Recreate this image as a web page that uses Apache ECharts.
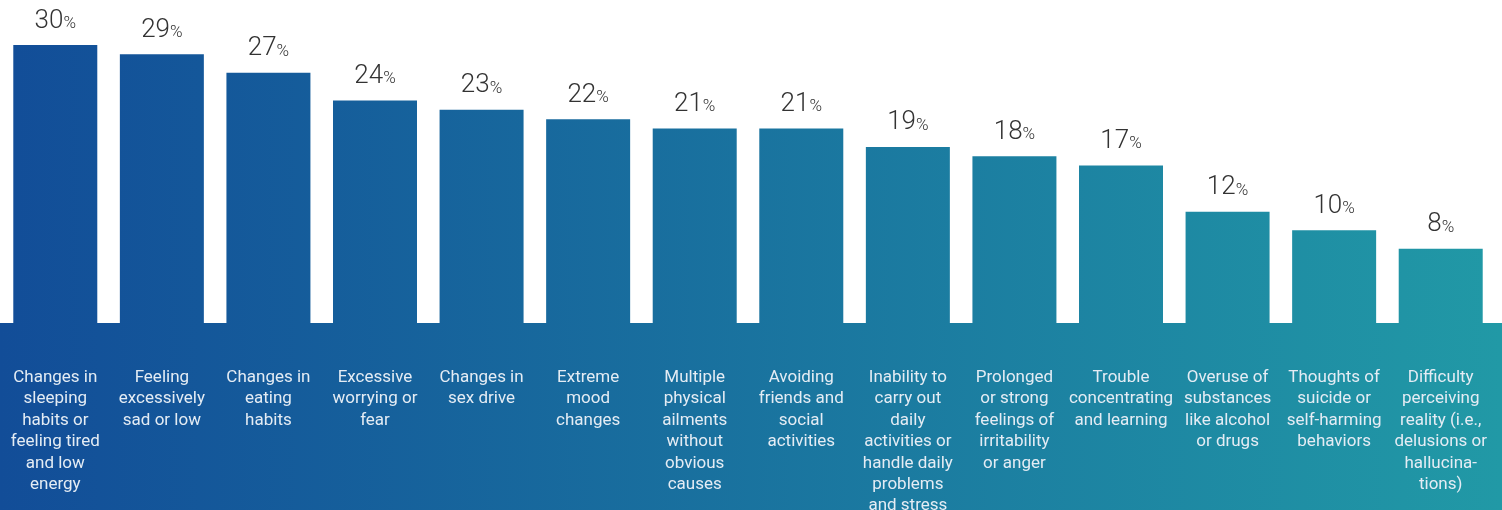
<!DOCTYPE html>
<html>
<head>
<meta charset="utf-8">
<style>
  html, body { margin: 0; padding: 0; background: #ffffff; overflow: hidden; }
  #chart { width: 1502px; height: 510px; }
</style>
<script src="https://cdn.jsdelivr.net/npm/echarts@6/dist/echarts.min.js"></script>
</head>
<body>
<div id="chart"></div>
<script>
// Symptom categories (line breaks as set in the layout)
const categories = [
  'Changes in\nsleeping\nhabits or\nfeeling tired\nand low\nenergy',
  'Feeling\nexcessively\nsad or low',
  'Changes in\neating\nhabits',
  'Excessive\nworrying or\nfear',
  'Changes in\nsex drive',
  'Extreme\nmood\nchanges',
  'Multiple\nphysical\nailments\nwithout\nobvious\ncauses',
  'Avoiding\nfriends and\nsocial\nactivities',
  'Inability to\ncarry out\ndaily\nactivities or\nhandle daily\nproblems\nand stress',
  'Prolonged\nor strong\nfeelings of\nirritability\nor anger',
  'Trouble\nconcentrating\nand learning',
  'Overuse of\nsubstances\nlike alcohol\nor drugs',
  'Thoughts of\nsuicide or\nself-harming\nbehaviors',
  'Difficulty\nperceiving\nreality (i.e.,\ndelusions or\nhallucina-\ntions)'
];

// Share of respondents reporting each symptom (%)
const percentages = [30, 29, 27, 24, 23, 22, 21, 21, 19, 18, 17, 12, 10, 8];

const W = 1502;
const BASELINE_BOTTOM = 187;
const FONT = 'Roboto, "Liberation Sans", sans-serif';

// One horizontal gradient shared by bars and the label band
const sweep = {
  type: 'linear', x: 0, y: 0, x2: W, y2: 0, global: true,
  colorStops: [
    { offset: 0, color: '#124d98' },
    { offset: 1, color: '#2199a6' }
  ]
};

const chart = echarts.init(document.getElementById('chart'), null, { renderer: 'canvas' });

chart.setOption({
  animation: false,
  backgroundColor: '#ffffff',
  textStyle: { fontFamily: FONT },
  graphic: [{
    type: 'rect',
    left: 0, bottom: 0, z: -10,
    shape: { width: W, height: BASELINE_BOTTOM },
    style: { fill: sweep }
  }],
  grid: {
    left: 2, right: 8, top: 45, bottom: BASELINE_BOTTOM,
    containLabel: false,
    outerBoundsMode: 'none'
  },
  xAxis: {
    type: 'category',
    data: categories,
    axisLine: { show: false },
    axisTick: { show: false },
    axisLabel: {
      interval: 0,
      margin: 44,
      verticalAlign: 'top',
      color: '#e4ecf4',
      fontSize: 17,
      lineHeight: 21.4,
      fontFamily: FONT,
      hideOverlap: false
    }
  },
  yAxis: {
    type: 'value',
    min: 0, max: 30,
    show: false,
    splitLine: { show: false }
  },
  series: [{
    type: 'bar',
    data: percentages,
    barWidth: 84,
    itemStyle: { color: sweep },
    label: {
      show: true,
      position: 'top',
      distance: 11,
      formatter: p => '{n|' + p.value + '}{p|%}',
      rich: {
        n: { fontSize: 26, fontWeight: 300, color: '#333333', fontFamily: FONT },
        p: { fontSize: 17, fontWeight: 300, color: '#333333', fontFamily: FONT, padding: [5, 0, 0, 0] }
      }
    }
  }]
});
</script>
</body>
</html>
